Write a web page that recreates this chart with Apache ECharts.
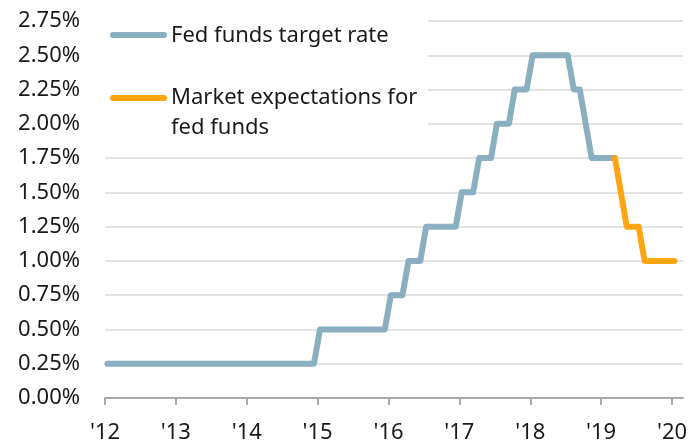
<!DOCTYPE html>
<html>
<head>
<meta charset="utf-8">
<script src="https://cdn.jsdelivr.net/npm/echarts@6/dist/echarts.min.js"></script>
<style>
html,body{margin:0;padding:0;background:#fff;}
#chart{width:693px;height:444px;}
</style>
</head>
<body>
<div id="chart"></div>
<script>
// ---- data ----
const fedDates = ['2012-01-13','2014-12-13','2015-01-13','2015-12-13','2016-01-13','2016-03-13','2016-04-13',
  '2016-06-13','2016-07-13','2016-12-13','2017-01-13','2017-03-13','2017-04-13','2017-06-13','2017-07-13',
  '2017-09-13','2017-10-13','2017-12-13','2018-01-13','2018-07-13','2018-08-13','2018-09-13','2018-11-13','2019-03-13'];
const fedRates = [0.25,0.25,0.50,0.50,0.75,0.75,1.00,
  1.00,1.25,1.25,1.50,1.50,1.75,1.75,2.00,
  2.00,2.25,2.25,2.50,2.50,2.25,2.25,1.75,1.75];
const expDates = ['2019-03-13','2019-05-13','2019-07-13','2019-08-13','2020-01-13'];
const expRates = [1.75,1.25,1.25,1.00,1.00];
const yearTicks = [2012,2013,2014,2015,2016,2017,2018,2019,2020];
const yearLabels = ["'12","'13","'14","'15","'16","'17","'18","'19","'20"];
const seriesNames = ['Fed funds target rate','Market expectations for\nfed funds'];

function decYear(s){
  const [y,m,d] = s.split('-').map(Number);
  const t = Date.UTC(y,m-1,d), a = Date.UTC(y,0,1), b = Date.UTC(y+1,0,1);
  return y + (t-a)/(b-a);
}
const fedData = fedDates.map((d,i)=>[decYear(d), fedRates[i]]);
const expData = expDates.map((d,i)=>[decYear(d), expRates[i]]);

const BLUE = '#89AFC0', ORANGE = '#FFA412';
const FONT = 'Noto Sans';
const FS = 22;
const chart = echarts.init(document.getElementById('chart'), null, {renderer:'canvas'});
chart.setOption({
  animation:false,
  backgroundColor:'#fff',
  grid:{left:105,right:10,top:21,bottom:46,containLabel:false},
  xAxis:{
    type:'value', min:2012, max:2020.155,
    splitLine:{show:false},
    axisLine:{show:true,lineStyle:{color:'#A9A9A9',width:2}},
    axisTick:{show:true,inside:false,length:7,lineStyle:{color:'#A9A9A9',width:2},customValues:yearTicks},
    axisLabel:{customValues:yearTicks,margin:24,fontFamily:FONT,fontSize:FS,color:'#1a1a1a',
      formatter:v=>yearLabels[yearTicks.indexOf(Math.round(v))]||''}
  },
  yAxis:{
    type:'value', min:0, max:2.75, interval:0.25,
    axisLine:{show:false}, axisTick:{show:false},
    splitLine:{show:true,lineStyle:{color:'#DADADA',width:1.5}},
    axisLabel:{margin:25,fontFamily:FONT,fontSize:FS,color:'#1a1a1a',formatter:v=>v.toFixed(2)+'%'}
  },
  series:[
    {name:seriesNames[0],type:'line',data:fedData,showSymbol:false,symbol:'none',
     lineStyle:{color:BLUE,width:6,cap:'round',join:'round'},z:3},
    {name:seriesNames[1],type:'line',data:expData,showSymbol:false,symbol:'none',
     lineStyle:{color:ORANGE,width:6,cap:'round',join:'round'},z:4}
  ],
  graphic:[
    {type:'rect',z:50,shape:{x:104,y:8,width:324,height:134},style:{fill:'#fff'}},
    {type:'line',z:51,shape:{x1:113,y1:35,x2:164,y2:35},style:{stroke:BLUE,lineWidth:6,lineCap:'round'}},
    {type:'text',z:51,x:171,y:36,style:{text:seriesNames[0],fontFamily:FONT,fontSize:FS,fill:'#1a1a1a',verticalAlign:'middle'}},
    {type:'line',z:51,shape:{x1:113,y1:98,x2:164,y2:98},style:{stroke:ORANGE,lineWidth:6,lineCap:'round'}},
    {type:'text',z:51,x:171,y:83,style:{text:seriesNames[1],fontFamily:FONT,fontSize:FS,lineHeight:30,fill:'#1a1a1a',verticalAlign:'top'}}
  ]
});
</script>
</body>
</html>
